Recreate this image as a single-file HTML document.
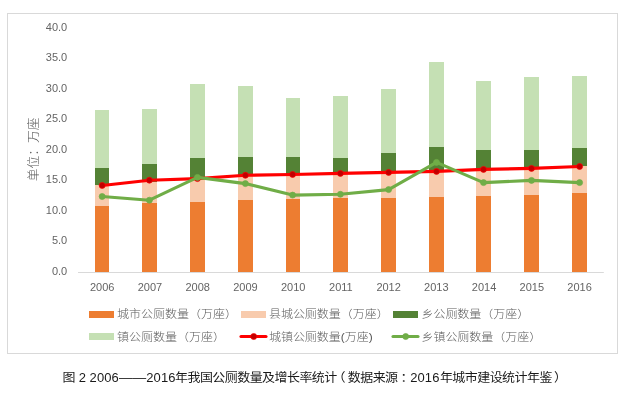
<!DOCTYPE html>
<html lang="zh-CN">
<head>
<meta charset="utf-8">
<title>图 2 2006——2016年我国公厕数量及增长率统计</title>
<style>
html,body{margin:0;padding:0;background:#fff;}
body{width:642px;height:401px;overflow:hidden;position:relative;font-family:"Liberation Sans","Noto Sans CJK SC",sans-serif;}
svg{position:absolute;left:0;top:0;display:block;}
.ax{font-family:"Liberation Sans","Noto Sans CJK SC",sans-serif;font-size:11px;fill:#646464;}
.lg{font-family:"Liberation Sans","Noto Sans CJK SC",sans-serif;font-size:12px;fill:#595959;font-weight:300;}
.yt{font-family:"Liberation Sans","Noto Sans CJK SC",sans-serif;font-size:12.75px;fill:#595959;font-weight:300;}
.cap{font-family:"Liberation Sans","Noto Sans CJK SC",sans-serif;font-size:13px;fill:#1a1a1a;letter-spacing:-0.55px;}
.d{letter-spacing:0.1px;}
.dash{font-size:13.7px;letter-spacing:0;}
</style>
</head>
<body>
<svg width="642" height="401" viewBox="0 0 642 401">
<rect x="0" y="0" width="642" height="401" fill="#ffffff"/>
<rect x="7.5" y="13.5" width="610" height="340" fill="#ffffff" stroke="#d9d9d9" stroke-width="1"/>

<g shape-rendering="crispEdges">
<rect x="95" y="110" width="14" height="58" fill="#c5e0b4"/>
<rect x="95" y="168" width="14" height="17" fill="#548235"/>
<rect x="95" y="185" width="14" height="21" fill="#f8cbad"/>
<rect x="95" y="206" width="14" height="66" fill="#ed7d31"/>
<rect x="142" y="109" width="15" height="55" fill="#c5e0b4"/>
<rect x="142" y="164" width="15" height="18" fill="#548235"/>
<rect x="142" y="182" width="15" height="21" fill="#f8cbad"/>
<rect x="142" y="203" width="15" height="69" fill="#ed7d31"/>
<rect x="190" y="84" width="15" height="74" fill="#c5e0b4"/>
<rect x="190" y="158" width="15" height="21" fill="#548235"/>
<rect x="190" y="179" width="15" height="23" fill="#f8cbad"/>
<rect x="190" y="202" width="15" height="70" fill="#ed7d31"/>
<rect x="238" y="86" width="15" height="71" fill="#c5e0b4"/>
<rect x="238" y="157" width="15" height="18" fill="#548235"/>
<rect x="238" y="175" width="15" height="25" fill="#f8cbad"/>
<rect x="238" y="200" width="15" height="72" fill="#ed7d31"/>
<rect x="286" y="98" width="14" height="59" fill="#c5e0b4"/>
<rect x="286" y="157" width="14" height="17" fill="#548235"/>
<rect x="286" y="174" width="14" height="25" fill="#f8cbad"/>
<rect x="286" y="199" width="14" height="73" fill="#ed7d31"/>
<rect x="333" y="96" width="15" height="62" fill="#c5e0b4"/>
<rect x="333" y="158" width="15" height="16" fill="#548235"/>
<rect x="333" y="174" width="15" height="24" fill="#f8cbad"/>
<rect x="333" y="198" width="15" height="74" fill="#ed7d31"/>
<rect x="381" y="89" width="15" height="64" fill="#c5e0b4"/>
<rect x="381" y="153" width="15" height="19" fill="#548235"/>
<rect x="381" y="172" width="15" height="26" fill="#f8cbad"/>
<rect x="381" y="198" width="15" height="74" fill="#ed7d31"/>
<rect x="429" y="62" width="15" height="85" fill="#c5e0b4"/>
<rect x="429" y="147" width="15" height="24" fill="#548235"/>
<rect x="429" y="171" width="15" height="26" fill="#f8cbad"/>
<rect x="429" y="197" width="15" height="75" fill="#ed7d31"/>
<rect x="476" y="81" width="15" height="69" fill="#c5e0b4"/>
<rect x="476" y="150" width="15" height="19" fill="#548235"/>
<rect x="476" y="169" width="15" height="27" fill="#f8cbad"/>
<rect x="476" y="196" width="15" height="76" fill="#ed7d31"/>
<rect x="524" y="77" width="15" height="73" fill="#c5e0b4"/>
<rect x="524" y="150" width="15" height="18" fill="#548235"/>
<rect x="524" y="168" width="15" height="27" fill="#f8cbad"/>
<rect x="524" y="195" width="15" height="77" fill="#ed7d31"/>
<rect x="572" y="76" width="15" height="72" fill="#c5e0b4"/>
<rect x="572" y="148" width="15" height="18" fill="#548235"/>
<rect x="572" y="166" width="15" height="27" fill="#f8cbad"/>
<rect x="572" y="193" width="15" height="79" fill="#ed7d31"/>
</g>
<line x1="78" y1="272.5" x2="603.8" y2="272.5" stroke="#d9d9d9" stroke-width="1"/>
<polyline points="102.15,185.45 149.40,180.20 197.45,178.60 245.40,175.30 292.60,174.45 340.40,173.40 388.60,172.40 436.50,171.40 483.50,169.40 531.50,168.40 579.60,166.50" fill="none" stroke="#ff0000" stroke-width="3.1" stroke-linejoin="round" stroke-linecap="round"/>
<circle cx="102.15" cy="185.45" r="3.0" fill="#c00000" stroke="#ff0000" stroke-width="0.7"/>
<circle cx="149.40" cy="180.20" r="3.0" fill="#c00000" stroke="#ff0000" stroke-width="0.7"/>
<circle cx="197.45" cy="178.60" r="3.0" fill="#c00000" stroke="#ff0000" stroke-width="0.7"/>
<circle cx="245.40" cy="175.30" r="3.0" fill="#c00000" stroke="#ff0000" stroke-width="0.7"/>
<circle cx="292.60" cy="174.45" r="3.0" fill="#c00000" stroke="#ff0000" stroke-width="0.7"/>
<circle cx="340.40" cy="173.40" r="3.0" fill="#c00000" stroke="#ff0000" stroke-width="0.7"/>
<circle cx="388.60" cy="172.40" r="3.0" fill="#c00000" stroke="#ff0000" stroke-width="0.7"/>
<circle cx="436.50" cy="171.40" r="3.0" fill="#c00000" stroke="#ff0000" stroke-width="0.7"/>
<circle cx="483.50" cy="169.40" r="3.0" fill="#c00000" stroke="#ff0000" stroke-width="0.7"/>
<circle cx="531.50" cy="168.40" r="3.0" fill="#c00000" stroke="#ff0000" stroke-width="0.7"/>
<circle cx="579.60" cy="166.50" r="3.0" fill="#c00000" stroke="#ff0000" stroke-width="0.7"/>
<polyline points="102.15,196.50 149.40,200.20 197.45,177.40 245.40,183.60 292.60,195.10 340.40,194.30 388.60,189.60 436.50,162.40 483.50,182.60 531.50,180.40 579.60,182.60" fill="none" stroke="#70ad47" stroke-width="3.1" stroke-linejoin="round" stroke-linecap="round"/>
<circle cx="102.15" cy="196.50" r="3.0" fill="#70ad47" stroke="#70ad47" stroke-width="0.7"/>
<circle cx="149.40" cy="200.20" r="3.0" fill="#70ad47" stroke="#70ad47" stroke-width="0.7"/>
<circle cx="197.45" cy="177.40" r="3.0" fill="#70ad47" stroke="#70ad47" stroke-width="0.7"/>
<circle cx="245.40" cy="183.60" r="3.0" fill="#70ad47" stroke="#70ad47" stroke-width="0.7"/>
<circle cx="292.60" cy="195.10" r="3.0" fill="#70ad47" stroke="#70ad47" stroke-width="0.7"/>
<circle cx="340.40" cy="194.30" r="3.0" fill="#70ad47" stroke="#70ad47" stroke-width="0.7"/>
<circle cx="388.60" cy="189.60" r="3.0" fill="#70ad47" stroke="#70ad47" stroke-width="0.7"/>
<circle cx="436.50" cy="162.40" r="3.0" fill="#70ad47" stroke="#70ad47" stroke-width="0.7"/>
<circle cx="483.50" cy="182.60" r="3.0" fill="#70ad47" stroke="#70ad47" stroke-width="0.7"/>
<circle cx="531.50" cy="180.40" r="3.0" fill="#70ad47" stroke="#70ad47" stroke-width="0.7"/>
<circle cx="579.60" cy="182.60" r="3.0" fill="#70ad47" stroke="#70ad47" stroke-width="0.7"/>
<text class="ax" x="67.2" y="275" text-anchor="end">0.0</text>
<text class="ax" x="67.2" y="244" text-anchor="end">5.0</text>
<text class="ax" x="67.2" y="214" text-anchor="end">10.0</text>
<text class="ax" x="67.2" y="183" text-anchor="end">15.0</text>
<text class="ax" x="67.2" y="153" text-anchor="end">20.0</text>
<text class="ax" x="67.2" y="122" text-anchor="end">25.0</text>
<text class="ax" x="67.2" y="92" text-anchor="end">30.0</text>
<text class="ax" x="67.2" y="61" text-anchor="end">35.0</text>
<text class="ax" x="67.2" y="31" text-anchor="end">40.0</text>
<text class="ax" x="102.25" y="291" text-anchor="middle">2006</text>
<text class="ax" x="149.98" y="291" text-anchor="middle">2007</text>
<text class="ax" x="197.71" y="291" text-anchor="middle">2008</text>
<text class="ax" x="245.44" y="291" text-anchor="middle">2009</text>
<text class="ax" x="293.17" y="291" text-anchor="middle">2010</text>
<text class="ax" x="340.90" y="291" text-anchor="middle">2011</text>
<text class="ax" x="388.63" y="291" text-anchor="middle">2012</text>
<text class="ax" x="436.36" y="291" text-anchor="middle">2013</text>
<text class="ax" x="484.09" y="291" text-anchor="middle">2014</text>
<text class="ax" x="531.82" y="291" text-anchor="middle">2015</text>
<text class="ax" x="579.55" y="291" text-anchor="middle">2016</text>
<text class="yt" transform="translate(38.1,149.3) rotate(-90) scale(1,0.96)" text-anchor="middle">单位：万座</text>
<rect x="89" y="311" width="25" height="7" fill="#ed7d31" shape-rendering="crispEdges"/>
<text class="lg" transform="translate(117.0,317.6) scale(1,0.9)">城市公厕数量（万座）</text>
<rect x="241" y="311" width="25" height="7" fill="#f8cbad" shape-rendering="crispEdges"/>
<text class="lg" transform="translate(268.9,317.6) scale(1,0.9)">县城公厕数量（万座）</text>
<rect x="393" y="311" width="25" height="7" fill="#548235" shape-rendering="crispEdges"/>
<text class="lg" transform="translate(421.4,317.6) scale(1,0.9)">乡公厕数量（万座）</text>
<rect x="89" y="333" width="25" height="7" fill="#c5e0b4" shape-rendering="crispEdges"/>
<text class="lg" transform="translate(117.0,340.8) scale(1,0.9)">镇公厕数量（万座）</text>
<line x1="241.0" y1="336.5" x2="266.0" y2="336.5" stroke="#ff0000" stroke-width="3.1" stroke-linecap="round"/>
<circle cx="253.7" cy="336.5" r="3.0" fill="#c00000" stroke="#ff0000" stroke-width="0.7"/>
<text class="lg" transform="translate(268.9,340.8) scale(1,0.9)">城镇公厕数量(万座)</text>
<line x1="393.0" y1="336.5" x2="418.0" y2="336.5" stroke="#70ad47" stroke-width="3.1" stroke-linecap="round"/>
<circle cx="405.7" cy="336.5" r="3.0" fill="#70ad47" stroke="#70ad47" stroke-width="0.7"/>
<text class="lg" transform="translate(421.4,340.8) scale(1,0.9)">乡镇公厕数量（万座）</text>
<text class="cap" transform="translate(0,381.9) scale(1,0.94)"><tspan x="62.4">图 </tspan><tspan class="d" x="78.8">2</tspan><tspan class="d" x="89.6">2006</tspan><tspan class="dash">——</tspan><tspan class="d" x="146.3">2016</tspan><tspan x="175.0">年我国公厕数量及增长率统计</tspan><tspan x="332.4">（</tspan><tspan x="347.8">数据来源</tspan><tspan x="400.6">：</tspan><tspan class="d" x="410.2">2016</tspan><tspan x="439.9">年城市建设统计年鉴</tspan><tspan x="554.0">）</tspan></text>
</svg>
</body>
</html>
